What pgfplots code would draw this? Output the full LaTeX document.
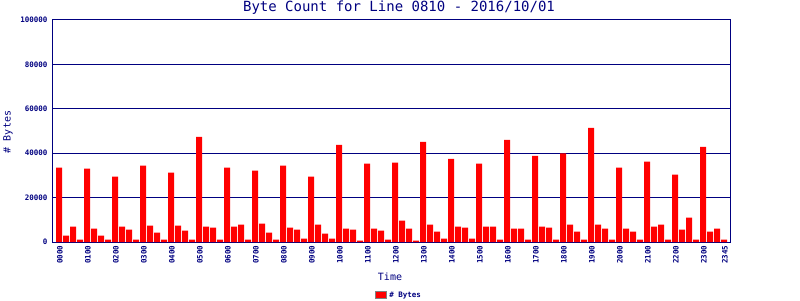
\documentclass[border=0pt]{standalone}
\usepackage{fontspec}
\setmainfont{DejaVu Sans Mono}
\usepackage{pgfplots}
\pgfplotsset{compat=1.18}
\definecolor{navy}{RGB}{0,0,128}
\pgfplotstableread{
x y
0 33450
1 2850
2 6900
3 1050
4 33000
5 6000
6 2850
7 1050
8 29400
9 6900
10 5550
11 1050
12 34350
13 7350
14 4200
15 1050
16 31200
17 7350
18 5100
19 1050
20 47400
21 6900
22 6450
23 1050
24 33450
25 6900
26 7800
27 1050
28 32100
29 8250
30 4200
31 1050
32 34350
33 6450
34 5550
35 1500
36 29400
37 7800
38 3750
39 1500
40 43800
41 6000
42 5550
43 600
44 35250
45 6000
46 5100
47 1050
48 35700
49 9600
50 6000
51 600
52 45150
53 7800
54 4650
55 1500
56 37500
57 6900
58 6450
59 1500
60 35250
61 6900
62 6900
63 1050
64 46050
65 6000
66 6000
67 1050
68 38850
69 6900
70 6450
71 1050
72 39900
73 7800
74 4650
75 1050
76 51450
77 7800
78 6000
79 1050
80 33450
81 6000
82 4650
83 1050
84 36150
85 6900
86 7800
87 1050
88 30300
89 5550
90 10950
91 1050
92 42900
93 4650
94 6000
95 1050
}\bytes
\begin{document}
\begin{tikzpicture}
\begin{axis}[
  at={(52pt,58pt)}, anchor=south west,
  scale only axis, width=678pt, height=222pt,
  xmin=-1, xmax=95.857, ymin=0, ymax=100000,
  ybar, bar width=6pt,
  axis line style={navy, line width=1pt},
  ymajorgrids, grid style={navy, line width=1pt},
  major tick length=0pt,
  ytick={0,20000,40000,60000,80000,100000},
  scaled y ticks=false,
  /pgf/number format/assume math mode=true,
  yticklabel={\pgfmathprintnumber[fixed,1000 sep={}]{\tick}},
  yticklabel style={font=\fontsize{7.5}{8}\selectfont\bfseries, text=navy, xshift=-1pt},
  xtick={0,4,...,92,95},
  xticklabels={0000,0100,0200,0300,0400,0500,0600,0700,0800,0900,1000,1100,1200,1300,1400,1500,1600,1700,1800,1900,2000,2100,2200,2300,2345},
  xticklabel style={font=\fontsize{7.5}{8}\selectfont\bfseries, text=navy, rotate=90, anchor=east, yshift=-1pt},
  legend style={at={(0.512,-0.239)}, anchor=center, draw=none, fill=none,
    font=\fontsize{7.5}{8}\selectfont\bfseries, text=navy, inner sep=0pt},
  legend image code/.code={\draw[fill=red, draw=gray, line width=1pt] (0pt,-3.5pt) rectangle (11pt,3.5pt);},
]
\addplot[fill=red, draw=none] table[x=x, y=y] {\bytes};
\addlegendentry{\# Bytes}
\end{axis}
\node[text=navy, font=\fontsize{14}{16}\selectfont] at (399pt,292pt) {Byte Count for Line 0810 - 2016/10/01};
\node[text=navy, font=\fontsize{10}{12}\selectfont] at (390pt,23pt) {Time};
\node[text=navy, font=\fontsize{10}{12}\selectfont, rotate=90] at (8pt,168pt) {\# Bytes};
\pgfresetboundingbox
\path[use as bounding box] (0pt,0pt) rectangle (800pt,300pt);
\end{tikzpicture}
\end{document}
